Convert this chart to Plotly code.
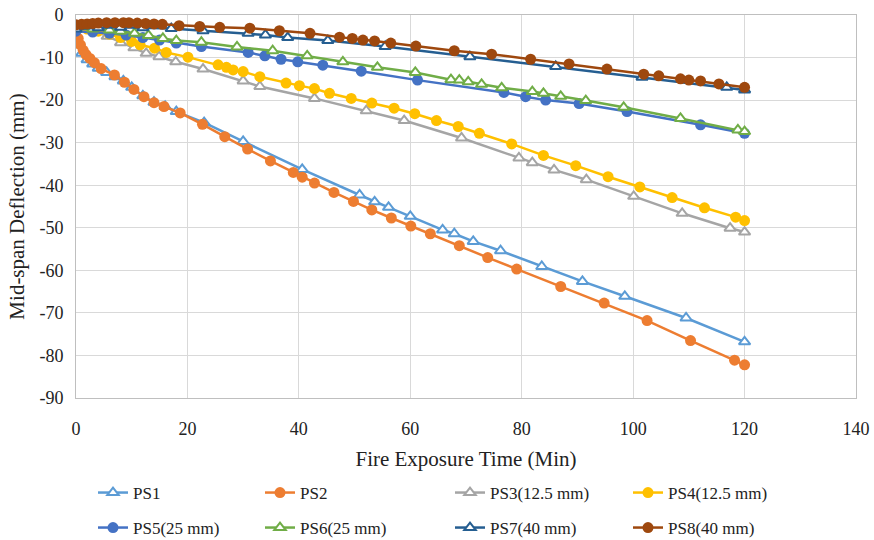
import plotly.graph_objects as go

# Mid-span deflection histories of the eight specimens (time in min, deflection in mm)
ps1_t = [0, 0.5, 1, 2, 3, 4, 5.5, 7, 8.5, 10, 12, 14, 16, 18, 23, 30, 40.6, 50.9, 53.6, 56.1, 60,
         65.8, 67.9, 71.3, 76.2, 83.6, 90.9, 98.5, 109.5, 120]
ps1_d = [-3, -7, -9, -10.5, -11.5, -12.5, -13.5, -14.5, -15.5, -17, -19, -20.5, -21.5, -22.7, -25.3,
         -29.7, -36.3, -42.3, -43.9, -45.2, -47.3, -50.5, -51.4, -53.2, -55.4, -59.1, -62.6, -66.1,
         -71.2, -76.8]

ps2_t = [0, 0.4, 0.8, 1.3, 1.8, 2.5, 3.3, 4.5, 6.9, 8.7, 10.4, 12.2, 14, 15.8, 18.7, 22.7, 26.7, 30.8,
         34.9, 39, 40.6, 42.8, 46.3, 49.8, 53.1, 56.6, 60.1, 63.6, 68.8, 73.9, 79.1, 87, 94.8, 102.5,
         110.3, 118.2, 120]
ps2_d = [-3, -5.5, -7, -8.3, -9.3, -10.2, -11.2, -12.6, -14.1, -15.8, -17.5, -19.2, -20.6, -21.5, -23,
         -25.7, -28.6, -31.5, -34.3, -37, -38.1, -39.5, -41.7, -43.8, -45.8, -47.7, -49.6, -51.4, -54.2,
         -57, -59.7, -63.8, -67.7, -71.8, -76.5, -81.1, -82.2]

ps3_t = [0, 1, 2, 3.5, 5.6, 8, 10.4, 12.6, 14.9, 17.9, 22.8, 30, 33, 42.8, 52.1, 58.9, 69.2, 79.5,
         81.9, 85.8, 91.6, 100.1, 108.8, 117.4, 120]
ps3_d = [-2.8, -3, -3.3, -3.8, -5, -6.5, -7.7, -9, -9.8, -11, -12.7, -15.5, -16.8, -19.6, -22.5, -24.8,
         -28.9, -33.6, -34.7, -36.4, -38.7, -42.6, -46.6, -50.1, -51]

ps4_t = [0, 2, 4, 6, 8, 10, 11.5, 14.1, 16.2, 20.1, 25.5, 27, 28.2, 30, 33, 37.7, 40.1, 42.8, 45.5,
         49.4, 53.1, 57.1, 60.8, 64.7, 68.6, 72.4, 78.2, 83.9, 89.7, 95.5, 101.2, 107, 112.8, 118.4, 120]
ps4_d = [-3, -3.3, -3.8, -4.5, -5.3, -6.2, -7, -7.8, -8.8, -9.9, -11.7, -12.3, -12.9, -13.3, -14.5, -16,
         -16.6, -17.3, -18.4, -19.6, -20.7, -21.9, -23.2, -24.8, -26.2, -27.8, -30.3, -33, -35.4, -38,
         -40.4, -42.9, -45.3, -47.5, -48.3]

ps5_t = [0, 3, 6, 9, 12, 15, 18, 22.5, 30.9, 33.9, 36.8, 39.8, 44.3, 51.2, 61.3, 76.8, 80.7, 84.3,
         90.3, 98.9, 112.1, 120]
ps5_d = [-3.8, -4, -4.3, -4.7, -5.3, -5.9, -6.6, -7.4, -8.8, -9.6, -10.4, -11, -11.8, -13.2, -15.3,
         -18.2, -19.2, -20, -20.8, -22.7, -25.8, -27.8]

ps6_t = [0, 3, 6, 8, 10.5, 13, 15.6, 18, 22.5, 28.9, 35.3, 41.5, 47.9, 54.1, 60.9, 67.3, 68.8, 70.4,
         72.8, 76.4, 81.9, 83.9, 87, 91.5, 98.3, 108.5, 118.8, 120]
ps6_d = [-3.2, -3.3, -3.5, -3.8, -4.3, -4.8, -5.5, -6, -6.4, -7.5, -8.4, -9.6, -11, -12.3, -13.5, -15.2,
         -15.3, -15.7, -16.3, -17.1, -18, -18.4, -19.1, -20.1, -21.7, -24.3, -27, -27.4]

ps7_t = [0, 4, 8, 12, 17.1, 22.8, 30.9, 34, 38, 45.2, 55.5, 70.7, 86.1, 101.6, 116.8, 120]
ps7_d = [-3.3, -3, -2.9, -3, -3.2, -3.7, -4.3, -4.7, -5.3, -6, -7.4, -9.8, -12.1, -14.6, -17, -17.6]

ps8_t = [0, 1, 2, 3, 4, 5.5, 7, 8.5, 9.5, 11, 12.5, 14, 15.5, 18.5, 22.2, 25.8, 31.2, 36.5, 42, 47.3,
         49.6, 51.5, 53.6, 56.5, 61, 67.9, 74.6, 81.6, 88.5, 95.3, 101.9, 104.6, 108.5, 110, 112.1,
         115.4, 120]
ps8_d = [-2.3, -2.2, -2.1, -2, -1.9, -1.8, -1.8, -1.8, -1.8, -1.9, -2, -2.1, -2.2, -2.5, -2.7, -2.9,
         -3.1, -3.7, -4.3, -5.2, -5.5, -5.9, -6.1, -6.6, -7.3, -8.4, -9.2, -10.4, -11.5, -12.7, -13.9,
         -14.3, -15, -15.3, -15.5, -16.2, -17]

names = ["PS1", "PS2", "PS3(12.5 mm)", "PS4(12.5 mm)", "PS5(25 mm)", "PS6(25 mm)", "PS7(40 mm)", "PS8(40 mm)"]
times = [ps1_t, ps2_t, ps3_t, ps4_t, ps5_t, ps6_t, ps7_t, ps8_t]
defls = [ps1_d, ps2_d, ps3_d, ps4_d, ps5_d, ps6_d, ps7_d, ps8_d]
colors = ["#5B9BD5", "#ED7D31", "#A5A5A5", "#FFC000", "#4472C4", "#70AD47", "#255E91", "#9E480E"]
hollow_triangle = [True, False, True, False, False, True, True, False]

# axis ticks (labels written with a plain hyphen for the minus sign)
x_ticks = [0, 20, 40, 60, 80, 100, 120, 140]
y_ticks = [0, -10, -20, -30, -40, -50, -60, -70, -80, -90]
y_tick_labels = ["0", "-10", "-20", "-30", "-40", "-50", "-60", "-70", "-80", "-90"]

FONT = "Liberation Serif"

# plot-area pixel geometry
W, H = 874, 540
L, R, T, B = 76, 18, 15, 142
pw, ph = W - L - R, H - T - B

# legend entries laid out in two rows of four
col_px = [98, 265, 455, 633]
row_px = [493, 528]

fig = go.Figure()
layout_legends = {}
for i, (nm, t, d, c, tri) in enumerate(zip(names, times, defls, colors, hollow_triangle)):
    lg = "legend" if i == 0 else f"legend{i + 1}"
    if tri:
        marker = dict(symbol="triangle-up", size=10, color="white", line=dict(color=c, width=2))
    else:
        marker = dict(symbol="circle", size=11, color=c, line=dict(color=c, width=0))
    fig.add_trace(go.Scatter(
        x=t, y=d, name=nm, mode="lines+markers",
        line=dict(color=c, width=2.5), marker=marker, legend=lg,
    ))
    cx = col_px[i % 4]
    ry = row_px[i // 4]
    layout_legends[lg] = dict(
        x=(cx - 5 - L) / pw, xanchor="left",
        y=(H - B - ry) / ph, yanchor="middle",
        orientation="h", bgcolor="rgba(0,0,0,0)", borderwidth=0,
        font=dict(family=FONT, size=17, color="#222"),
    )

fig.update_layout(
    width=W, height=H,
    margin=dict(l=L, r=R, t=T, b=B, autoexpand=False),
    plot_bgcolor="white", paper_bgcolor="white",
    font=dict(family=FONT, size=17, color="#222"),
    showlegend=True,
    **layout_legends,
)
fig.update_xaxes(
    range=[0, 140], tickmode="array", tickvals=x_ticks, ticktext=[str(v) for v in x_ticks],
    showgrid=True, gridcolor="#D9D9D9", gridwidth=1,
    showline=True, linecolor="#BFBFBF", linewidth=1, mirror=True,
    zeroline=False, ticks="", ticklabelstandoff=14,
    tickfont=dict(family=FONT, size=18, color="#222"),
    title=dict(text="Fire Exposure Time (Min)", font=dict(family=FONT, size=21, color="#222"), standoff=13),
)
fig.update_yaxes(
    range=[-90, 0], tickmode="array", tickvals=y_ticks, ticktext=y_tick_labels,
    showgrid=True, gridcolor="#D9D9D9", gridwidth=1,
    showline=True, linecolor="#BFBFBF", linewidth=1, mirror=True,
    zeroline=False, ticks="", ticklabelstandoff=8,
    tickfont=dict(family=FONT, size=18, color="#222"),
    title=dict(text="Mid-span Deflection (mm)", font=dict(family=FONT, size=21, color="#222"), standoff=9),
)

fig.write_html("out.html")
